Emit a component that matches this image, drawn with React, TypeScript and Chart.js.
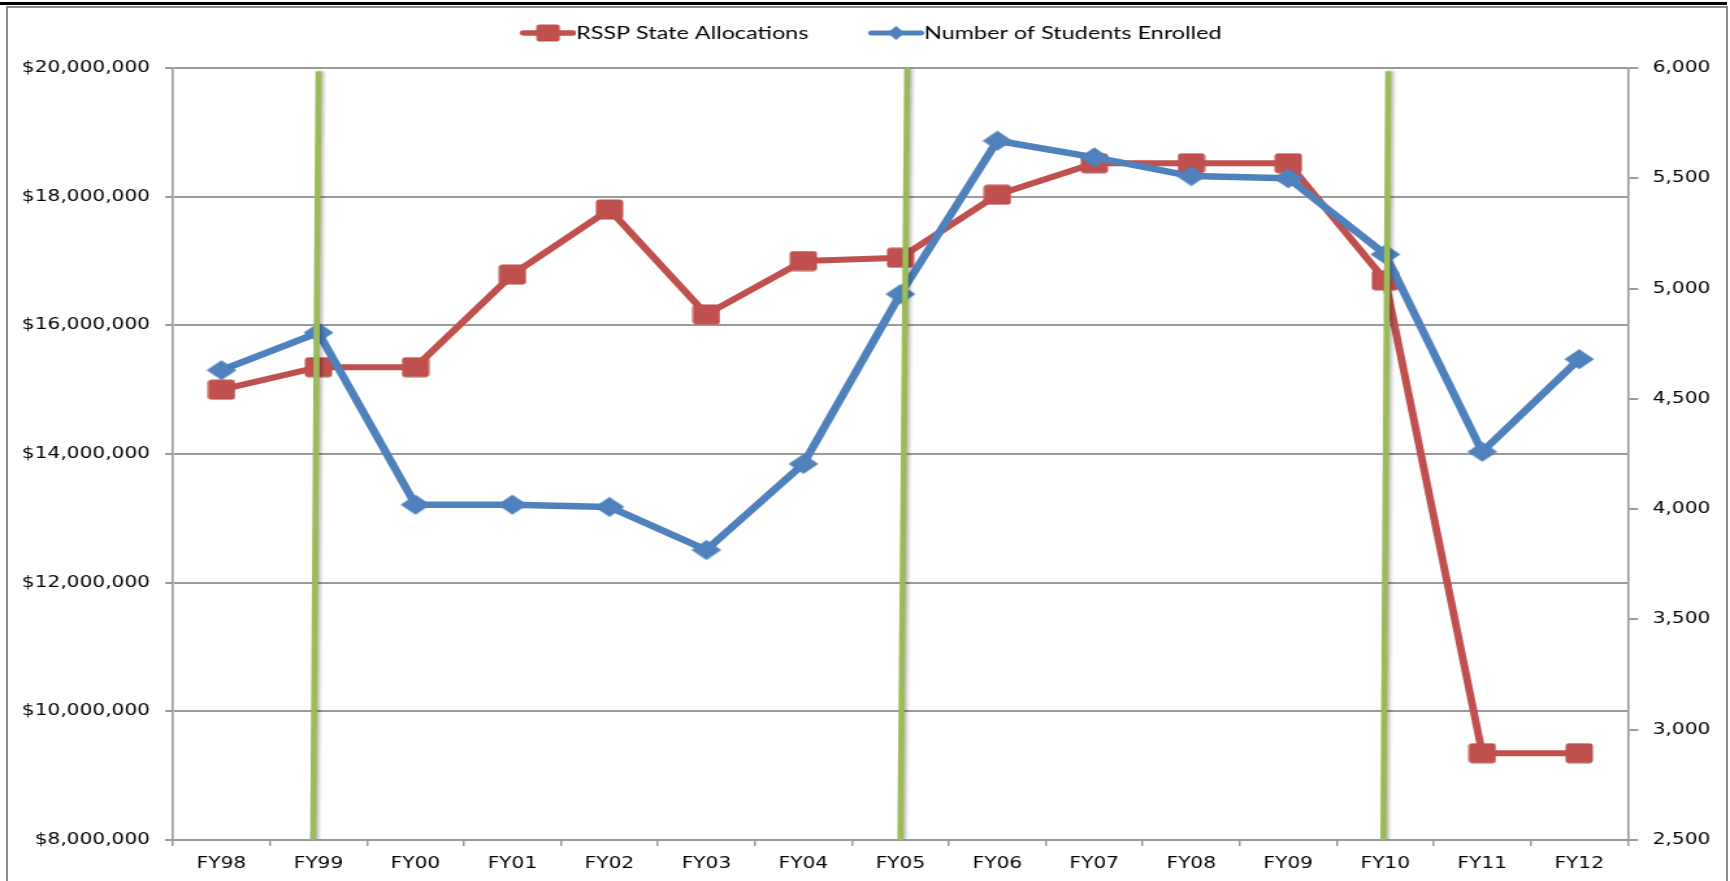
import React, { useEffect, useRef } from 'react';
import { Chart, registerables } from 'chart.js';

Chart.register(...registerables);

// ---- data ----
const categories = ['FY98', 'FY99', 'FY00', 'FY01', 'FY02', 'FY03', 'FY04', 'FY05', 'FY06', 'FY07', 'FY08', 'FY09', 'FY10', 'FY11', 'FY12'];
const allocations = [15000000, 15350000, 15350000, 16790000, 17800000, 16170000, 17000000, 17050000, 18030000, 18520000, 18520000, 18520000, 16700000, 9350000, 9350000];
const enrolled = [4630, 4800, 4020, 4020, 4010, 3815, 4205, 4975, 5670, 5595, 5510, 5500, 5155, 4260, 4680];
const seriesNames = ['RSSP State Allocations', 'Number of Students Enrolled'];
const allocationAxis = [8000000, 20000000, 2000000]; // min, max, step
const enrolledAxis = [2500, 6000, 500]; // min, max, step
// green divider lines (category index at top / bottom, allocation value at top / bottom)
const dividerTopIndex = [1.0, 7.07, 12.03];
const dividerBottomIndex = [0.945, 7.0, 11.98];
const dividerTopValue = [19950000, 20000000, 19950000];
const dividerBottomValue = [8000000, 8000000, 8000000];

// ---- style ----
const RED = '#c0504d';
const BLUE = '#4f81bd';
const GREEN = '#9bbb59';
const GRAY = '#9a9a9a';
const STRETCH = 1.3;
const FULL_W = 1730;
const FULL_H = 881;
const CANVAS_W = Math.round(FULL_W / STRETCH);

function makeCanvas(w: number, h: number) {
  const c = document.createElement('canvas');
  c.width = w;
  c.height = h;
  return c;
}

function roundRectPath(g: CanvasRenderingContext2D, x: number, y: number, w: number, h: number, r: number) {
  g.beginPath();
  g.moveTo(x + r, y);
  g.lineTo(x + w - r, y);
  g.quadraticCurveTo(x + w, y, x + w, y + r);
  g.lineTo(x + w, y + h - r);
  g.quadraticCurveTo(x + w, y + h, x + w - r, y + h);
  g.lineTo(x + r, y + h);
  g.quadraticCurveTo(x, y + h, x, y + h - r);
  g.lineTo(x, y + r);
  g.quadraticCurveTo(x, y, x + r, y);
  g.closePath();
}

function squareMarker(w: number, h: number) {
  const c = makeCanvas(w, h);
  const g = c.getContext('2d')!;
  roundRectPath(g, 0.5, 0.5, w - 1, h - 1, 3);
  g.fillStyle = RED;
  g.fill();
  return c;
}

function diamondMarker(w: number, h: number) {
  const c = makeCanvas(w, h);
  const g = c.getContext('2d')!;
  g.beginPath();
  g.moveTo(w / 2, 0.5);
  g.lineTo(w - 0.5, h / 2);
  g.lineTo(w / 2, h - 0.5);
  g.lineTo(0.5, h / 2);
  g.closePath();
  g.fillStyle = BLUE;
  g.fill();
  return c;
}

function legendIcon(kind: 'square' | 'diamond', total: number, visible: number, h: number) {
  const c = makeCanvas(total, h);
  const g = c.getContext('2d')!;
  const x0 = total - visible;
  const color = kind === 'square' ? RED : BLUE;
  g.strokeStyle = color;
  g.lineWidth = kind === 'square' ? 5.5 : 5;
  g.lineCap = 'round';
  g.beginPath();
  g.moveTo(x0 + 2.5, h / 2);
  g.lineTo(total - 2.5, h / 2);
  g.stroke();
  const cx = x0 + visible / 2;
  g.fillStyle = color;
  if (kind === 'square') {
    roundRectPath(g, cx - 9, h / 2 - 8.5, 18, 17, 2.5);
    g.fill();
  } else {
    g.beginPath();
    g.moveTo(cx, h / 2 - 7);
    g.lineTo(cx + 6.5, h / 2);
    g.lineTo(cx, h / 2 + 7);
    g.lineTo(cx - 6.5, h / 2);
    g.closePath();
    g.fill();
  }
  return c;
}

const dividerShadow = {
  id: 'dividerShadow',
  beforeDatasetDraw(chart: any, args: any) {
    const ds = chart.data.datasets[args.index];
    if (ds && ds.isDivider) {
      const ctx = chart.ctx;
      ctx.save();
      ctx.shadowColor = 'rgba(0,0,0,0.28)';
      ctx.shadowBlur = 3;
      ctx.shadowOffsetX = 2;
      ctx.shadowOffsetY = 0;
    }
  },
  afterDatasetDraw(chart: any, args: any) {
    const ds = chart.data.datasets[args.index];
    if (ds && ds.isDivider) chart.ctx.restore();
  },
};

export default function App() {
  const ref = useRef<HTMLCanvasElement | null>(null);

  useEffect(() => {
    const canvas = ref.current;
    if (!canvas) return;
    const redPoint = squareMarker(22, 21);
    const bluePoint = diamondMarker(24, 21);
    const legendFont = 18;
    const legendBox = 43;
    const redLegend = legendIcon('square', legendBox + legendFont, legendBox, 18);
    const blueLegend = legendIcon('diamond', legendBox + legendFont, legendBox, 18);

    const dividers = dividerTopIndex.map((t, i) => ({
      label: '',
      isDivider: true,
      data: [
        { x: t, y: dividerTopValue[i] },
        { x: dividerBottomIndex[i], y: dividerBottomValue[i] },
      ],
      xAxisID: 'xg',
      yAxisID: 'y',
      borderColor: GREEN,
      backgroundColor: GREEN,
      borderWidth: 4.6,
      pointRadius: 0,
      order: 1,
    }));

    const tickFont = { family: 'DejaVu Sans', size: 15.5 };

    const chart = new Chart(canvas, {
      type: 'line',
      data: {
        labels: categories,
        datasets: [
          {
            label: seriesNames[0],
            data: allocations,
            xAxisID: 'x',
            yAxisID: 'y',
            borderColor: RED,
            backgroundColor: RED,
            borderWidth: 6,
            borderJoinStyle: 'round',
            pointStyle: redPoint as any,
            pointRadius: 11,
            order: 3,
          },
          {
            label: seriesNames[1],
            data: enrolled,
            xAxisID: 'x',
            yAxisID: 'y1',
            borderColor: BLUE,
            backgroundColor: BLUE,
            borderWidth: 6.5,
            borderJoinStyle: 'round',
            pointStyle: bluePoint as any,
            pointRadius: 11,
            order: 2,
          },
          ...(dividers as any[]),
        ],
      },
      options: {
        responsive: false,
        animation: false,
        devicePixelRatio: 1,
        layout: { padding: { top: -13, left: 0, right: 0, bottom: 0 } },
        plugins: {
          tooltip: { enabled: false },
          title: { display: false },
          legend: {
            position: 'top',
            labels: {
              usePointStyle: true,
              pointStyleWidth: legendBox,
              padding: 37,
              color: '#000',
              font: { family: 'Lato', size: legendFont },
              filter: (item: any) => item.datasetIndex < 2,
              sort: (a: any, b: any) => a.datasetIndex - b.datasetIndex,
              generateLabels: (ch: any) => {
                const items = (Chart.defaults.plugins.legend.labels as any).generateLabels(ch);
                items.forEach((it: any) => {
                  if (it.datasetIndex === 0) it.pointStyle = redLegend;
                  if (it.datasetIndex === 1) it.pointStyle = blueLegend;
                  it.fontColor = '#000';
                });
                return items;
              },
            },
          },
        },
        scales: {
          x: {
            type: 'category',
            position: 'bottom',
            offset: true,
            grid: { offset: true, drawOnChartArea: false, drawTicks: true, tickLength: 6, color: GRAY, lineWidth: 1.5 },
            border: { display: true, color: GRAY, width: 2 },
            ticks: { font: { family: 'DejaVu Sans', size: 15.5 }, color: '#000', padding: 9, maxRotation: 0, autoSkip: false },
            afterFit: (s: any) => { s.height = 41; },
          },
          spacer: {
            type: 'category',
            position: 'top',
            grid: { display: false },
            border: { display: false },
            ticks: { display: false },
            afterFit: (s: any) => { s.height = 16; },
          },
          xg: {
            type: 'linear',
            display: false,
            min: -0.5,
            max: 14.5,
          },
          y: {
            type: 'linear',
            position: 'left',
            min: allocationAxis[0],
            max: allocationAxis[1],
            ticks: {
              stepSize: allocationAxis[2],
              font: tickFont,
              color: '#000',
              padding: 11.7,
              callback: (v: any) => '$' + Number(v).toLocaleString('en-US'),
            },
            grid: { color: GRAY, lineWidth: 2, tickLength: 6, drawTicks: true },
            border: { color: GRAY, width: 1.6 },
            afterFit: (s: any) => { s.width = 133.1; },
          },
          y1: {
            type: 'linear',
            position: 'right',
            min: enrolledAxis[0],
            max: enrolledAxis[1],
            ticks: {
              stepSize: enrolledAxis[2],
              font: tickFont,
              color: '#000',
              padding: 11.2,
              callback: (v: any) => Number(v).toLocaleString('en-US'),
            },
            grid: { drawOnChartArea: false, drawTicks: true, tickLength: 8, color: GRAY, lineWidth: 2 },
            border: { color: GRAY, width: 1.6 },
            afterFit: (s: any) => { s.width = CANVAS_W - 1252.3; },
          },
        },
      } as any,
      plugins: [dividerShadow],
    });

    return () => chart.destroy();
  }, []);

  return (
    <div style={{ position: 'absolute', left: 0, top: 0, width: FULL_W, height: FULL_H, overflow: 'hidden', background: '#fff' }}>
      <canvas
        ref={ref}
        width={CANVAS_W}
        height={FULL_H}
        style={{ position: 'absolute', left: 0, top: 0, width: FULL_W + 'px', height: FULL_H + 'px' }}
      />
      <div style={{ position: 'absolute', left: 0, top: 2, width: 1727, height: 3, background: '#000', pointerEvents: 'none' }} />
      <div style={{ position: 'absolute', left: 6, top: 6, width: 1722, height: 920, border: '2px solid #8c8c8c', boxSizing: 'border-box', pointerEvents: 'none' }} />
    </div>
  );
}
